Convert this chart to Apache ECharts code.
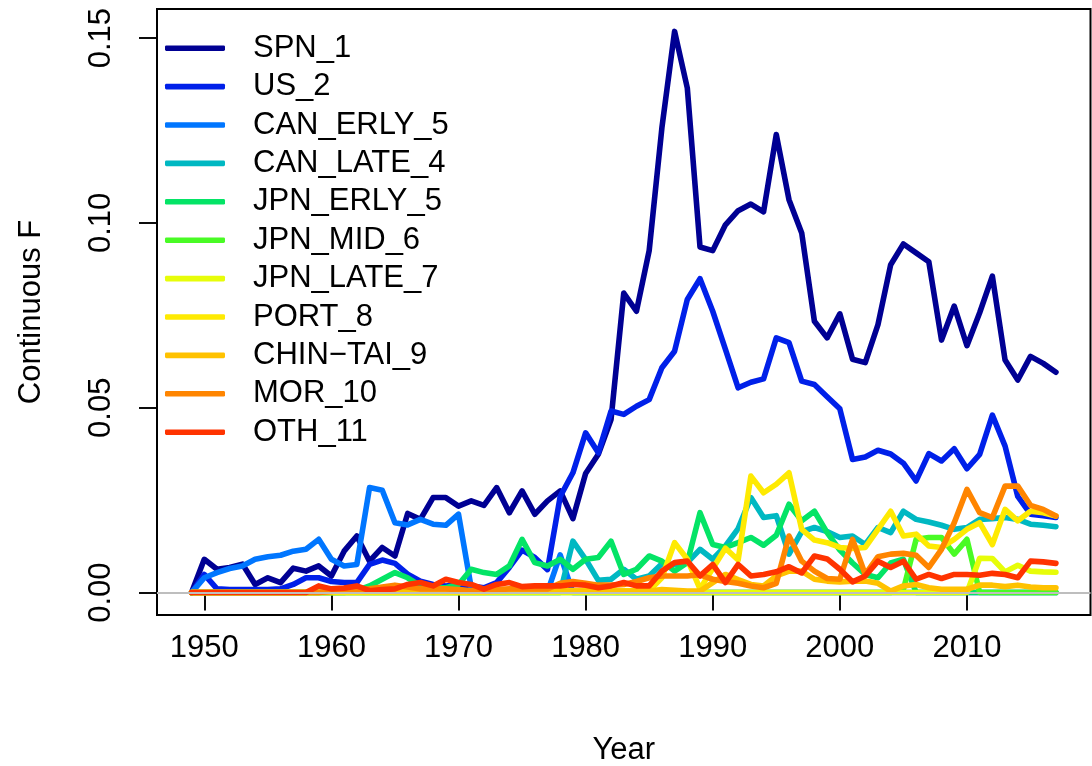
<!DOCTYPE html>
<html>
<head>
<meta charset="utf-8">
<script src="https://cdn.jsdelivr.net/npm/echarts@6/dist/echarts.min.js"></script>
<style>
html,body{margin:0;padding:0;background:#fff;}
#chart{width:1092px;height:766px;}
</style>
</head>
<body>
<div id="chart"></div>
<script>
// ---- data (years 1949..2017) ----
const years = [];
for (let y = 1949; y <= 2017; y++) years.push(y);

const seriesNames = ['SPN_1','US_2','CAN_ERLY_5','CAN_LATE_4','JPN_ERLY_5','JPN_MID_6','JPN_LATE_7','PORT_8','CHIN\u2212TAI_9','MOR_10','OTH_11'];
const seriesColors = ['#000093','#0020E9','#0076FF','#00B8C2','#04E466','#49FB25','#E7FD09','#FEEA02','#FFC200','#FF8500','#FF3300'];

const SPN_1 = [0,
 0.009,0.0063,0.0068,0.0077,0.0022,0.004,0.0027,0.0066,0.0058,0.0072,
 0.0045,0.0112,0.0153,0.0085,0.0122,0.0099,0.0214,0.0198,0.0257,0.0257,
 0.0234,0.0248,0.0236,0.0284,0.0216,0.0275,0.0212,0.0248,0.0275,0.0200,
 0.0322,0.0374,0.0468,0.081,0.0761,0.0925,0.1257,0.1518,0.1365,0.0935,
 0.0925,0.0995,0.1033,0.1051,0.103,0.1239,0.1063,0.0973,0.0734,0.0689,
 0.0754,0.0631,0.0622,0.0725,0.0887,0.0943,0.0919,0.0895,0.0683,0.0775,
 0.0668,0.0757,0.0856,0.0629,0.0575,0.0639,0.062,0.0596];
const US_2 = [0,
 0.0049,0.001,0.0008,0.0008,0.0008,0.0008,0.001,0.0022,0.004,0.004,
 0.003,0.0027,0.0027,0.0076,0.0088,0.0079,0.005,0.0031,0.0022,0.0018,
 0.0022,0.0018,0.0013,0.0027,0.0068,0.0115,0.0095,0.0062,0.026,0.0324,
 0.0432,0.0378,0.0491,0.0482,0.0504,0.0522,0.0608,0.0653,0.0793,0.0849,
 0.0761,0.0658,0.0554,0.0569,0.0578,0.0689,0.0676,0.0572,0.0563,0.053,
 0.0497,0.036,0.0367,0.0385,0.0375,0.035,0.0302,0.0376,0.0356,0.0389,
 0.0335,0.0374,0.048,0.0396,0.026,0.0212,0.0208,0.0203];
const CAN_ERLY_5 = [0,
 0.004,0.0054,0.0065,0.0072,0.009,0.0097,0.0101,0.0112,0.0117,0.0144,
 0.009,0.0072,0.0076,0.0284,0.0277,0.0189,0.0183,0.0198,0.0185,0.0182,
 0.0212,0.0013,0.0005,0.0003,0.0002,0.0002,0.0002,0.0002,0.0102,0,
 0,0,0,0,0,0,0,0,0,0,
 0,0,0,0,0,0,0,0,0,0,
 0,0,0,0,0,0,0,0,0,0,
 0,0,0,0,0,0,0,0];
const CAN_LATE_4 = [0,
 0,0,0,0,0,0,0,0,0,0,
 0,0,0,0,0,0,0,0,0,0,
 0,0,0,0,0,0,0,0,0,0.0139,
 0.009,0.0033,0.0036,0.0063,0.0036,0.0045,0.0078,0.0076,0.0081,0.0117,
 0.009,0.0126,0.0173,0.0257,0.0203,0.0208,0.0104,0.0165,0.0176,0.0165,
 0.0149,0.0153,0.013,0.0176,0.0162,0.022,0.0198,0.0191,0.0182,0.0171,
 0.0176,0.0198,0.02,0.0203,0.0198,0.0185,0.0182,0.0178];
const JPN_ERLY_5 = [0,
 0,0,0,0,0,0,0,0,0,0,
 0,0,0.0005,0.0018,0.0036,0.0054,0.004,0.0018,0.0013,0.0013,
 0.0022,0.0063,0.0054,0.0049,0.0072,0.0144,0.0081,0.0072,0.009,0.0063,
 0.009,0.0095,0.0139,0.0049,0.0063,0.0099,0.0085,0.0058,0.0081,0.0216,
 0.013,0.0122,0.0135,0.0149,0.0128,0.0155,0.0239,0.0194,0.022,0.0162,
 0.0115,0.008,0.0049,0.004,0.008,0.009,0,0,0,0,
 0,0,0,0,0,0,0,0];
const JPN_MID_6 = [0,
 0,0,0,0,0,0,0,0,0,0,
 0,0,0,0,0,0,0,0,0,0,
 0,0,0,0,0,0,0,0,0,0,
 0,0,0,0,0,0,0,0,0,0,
 0,0,0,0,0,0,0,0,0,0,
 0,0,0,0,0,0.0008,0.0144,0.0149,0.0149,0.0104,
 0.0144,0,0,0,0,0,0,0];
const JPN_LATE_7 = [0,
 0,0,0,0,0,0,0,0,0,0,
 0,0,0,0,0,0,0,0,0,0,
 0,0,0,0,0,0,0,0,0,0,
 0,0,0,0,0,0,0,0,0,0,
 0,0,0,0,0,0,0,0,0,0,
 0,0,0,0,0,0,0,0,0,0,
 0,0.0093,0.0092,0.0056,0.0074,0.0058,0.0056,0.0055];
const PORT_8 = [0,
 0,0,0,0,0,0,0,0,0,0,
 0,0,0,0,0,0,0,0,0,0,
 0,0,0,0.0003,0.0003,0.0005,0.0005,0.0005,0.0005,0.0005,
 0.0005,0.0005,0.0005,0.0005,0.0005,0.0005,0.004,0.0135,0.009,0.001,
 0.0065,0.012,0.0088,0.0315,0.027,0.0293,0.0324,0.0171,0.0142,0.0135,
 0.0122,0.0119,0.0122,0.0171,0.022,0.0153,0.0158,0.0126,0.0122,0.0144,
 0.0171,0.0189,0.013,0.0225,0.0194,0.022,0.0216,0.0207];
const CHIN_TAI_9 = [0,
 0,0,0,0,0,0,0,0,0,0,
 0.0004,0.0004,0.0004,0.0004,0.0004,0.0004,0.0004,0.0004,0.0004,0.0004,
 0.0004,0.0004,0.0004,0.0004,0.0004,0.0004,0.0004,0.0004,0.0004,0.0004,
 0.0004,0.0004,0.0004,0.0004,0.0004,0.0004,0.0008,0.0006,0.0004,0.0004,
 0.0027,0.0049,0.0035,0.0022,0.0018,0.0045,0.0058,0.0058,0.0036,0.0031,
 0.0029,0.0031,0.0031,0.0025,0.0004,0.0018,0.0022,0.0013,0.0009,0.0009,
 0.0009,0.002,0.002,0.0016,0.002,0.0015,0.0013,0.0013];
const MOR_10 = [0,
 0,0,0,0,0,0,0,0,0,0,
 0.0003,0.0005,0.0008,0.001,0.0015,0.002,0.0015,0.001,0.001,0.001,
 0.0008,0.0005,0.0005,0.0008,0.001,0.001,0.001,0.001,0.0025,0.003,
 0.0025,0.002,0.002,0.0022,0.003,0.004,0.0045,0.0045,0.0045,0.0048,
 0.0036,0.003,0.0025,0.0018,0.0013,0.0025,0.0153,0.0085,0.0058,0.0038,
 0.0036,0.0144,0.0049,0.0097,0.0104,0.0106,0.0101,0.0068,0.0117,0.0189,
 0.0279,0.0216,0.0203,0.0288,0.0288,0.0236,0.0225,0.0207];
const OTH_11 = [0,
 0,0,0,0,0,0,0,0,0,0.0018,
 0.001,0.0012,0.0018,0.0005,0.0008,0.001,0.0022,0.0027,0.0018,0.0036,
 0.0027,0.0022,0.0009,0.0022,0.0027,0.0016,0.0018,0.0018,0.0018,0.0022,
 0.002,0.0013,0.0018,0.0027,0.0018,0.0018,0.0058,0.0081,0.0085,0.0045,
 0.0076,0.0027,0.0076,0.0045,0.0049,0.0056,0.007,0.0053,0.0099,0.0091,
 0.0063,0.0029,0.0045,0.0085,0.0068,0.0085,0.0036,0.0049,0.0038,0.0049,
 0.0049,0.0047,0.0052,0.0049,0.004,0.0085,0.0083,0.0079];

const seriesValues = [SPN_1, US_2, CAN_ERLY_5, CAN_LATE_4, JPN_ERLY_5, JPN_MID_6, JPN_LATE_7, PORT_8, CHIN_TAI_9, MOR_10, OTH_11];

const xTicks = [1950, 1960, 1970, 1980, 1990, 2000, 2010];
const xTickLabels = ['1950','1960','1970','1980','1990','2000','2010'];
const yTicks = [0, 0.05, 0.10, 0.15];
const yTickLabels = ['0.00','0.05','0.10','0.15'];

// ---- chart ----
const FONT = 'Liberation Sans, Arial, Helvetica, sans-serif';
const FS = 31;
const chart = echarts.init(document.getElementById('chart'), null, {renderer: 'canvas'});

const series = seriesNames.map((name, k) => {
  const s = {
    name: name,
    type: 'line',
    data: years.map((y, i) => [y, seriesValues[k][i]]),
    showSymbol: false,
    symbol: 'none',
    lineStyle: {color: seriesColors[k], width: 5.6, cap: 'round', join: 'round'},
    itemStyle: {color: seriesColors[k]},
    emphasis: {disabled: true},
    animation: false
  };
  if (k === 0) {
    s.markLine = {
      silent: true, symbol: ['none','none'], label: {show: false},
      lineStyle: {color: '#BEBEBE', width: 1.9, type: 'solid'},
      data: [{yAxis: 0}], animation: false
    };
  }
  return s;
});

chart.setOption({
  backgroundColor: '#fff',
  animation: false,
  grid: {left: 157, right: 1.5, top: 9, bottom: 151, show: true, borderColor: '#000', borderWidth: 2,
         backgroundColor: 'transparent', containLabel: false, outerBoundsMode: 'none'},
  legend: {
    orient: 'vertical', left: 165, top: 29, padding: 0, itemGap: 0,
    icon: 'roundRect', itemWidth: 60, itemHeight: 5.6,
    data: seriesNames,
    textStyle: {fontSize: FS, color: '#000', fontFamily: FONT, lineHeight: 38.4, padding: [0,0,0,23]},
    selectedMode: false
  },
  xAxis: {
    type: 'value', min: 1946.28, max: 2019.72,
    axisLine: {show: false}, splitLine: {show: false},
    axisTick: {show: true, length: 18, lineStyle: {color: '#000', width: 1.9}, customValues: xTicks},
    axisLabel: {customValues: xTicks, fontSize: FS, color: '#000', fontFamily: FONT, margin: 18,
      formatter: v => { const i = xTicks.indexOf(Math.round(v)); return i >= 0 ? xTickLabels[i] : ''; }},
    name: 'Year', nameLocation: 'middle', nameGap: 120,
    nameTextStyle: {fontSize: FS, color: '#000', fontFamily: FONT}
  },
  yAxis: {
    type: 'value', min: -0.00607, max: 0.15787,
    axisLine: {show: false}, splitLine: {show: false},
    axisTick: {show: true, length: 18, lineStyle: {color: '#000', width: 1.9}, customValues: yTicks},
    axisLabel: {customValues: yTicks, fontSize: FS, color: '#000', fontFamily: FONT, margin: 40, rotate: 90,
      formatter: v => { let best = 0; yTicks.forEach((t, i) => { if (Math.abs(t - v) < Math.abs(yTicks[best] - v)) best = i; }); return yTickLabels[best]; }},
    name: 'Continuous F', nameLocation: 'middle', nameGap: 110, nameRotate: 90,
    nameTextStyle: {fontSize: FS, color: '#000', fontFamily: FONT}
  },
  series: series
});
</script>
</body>
</html>
